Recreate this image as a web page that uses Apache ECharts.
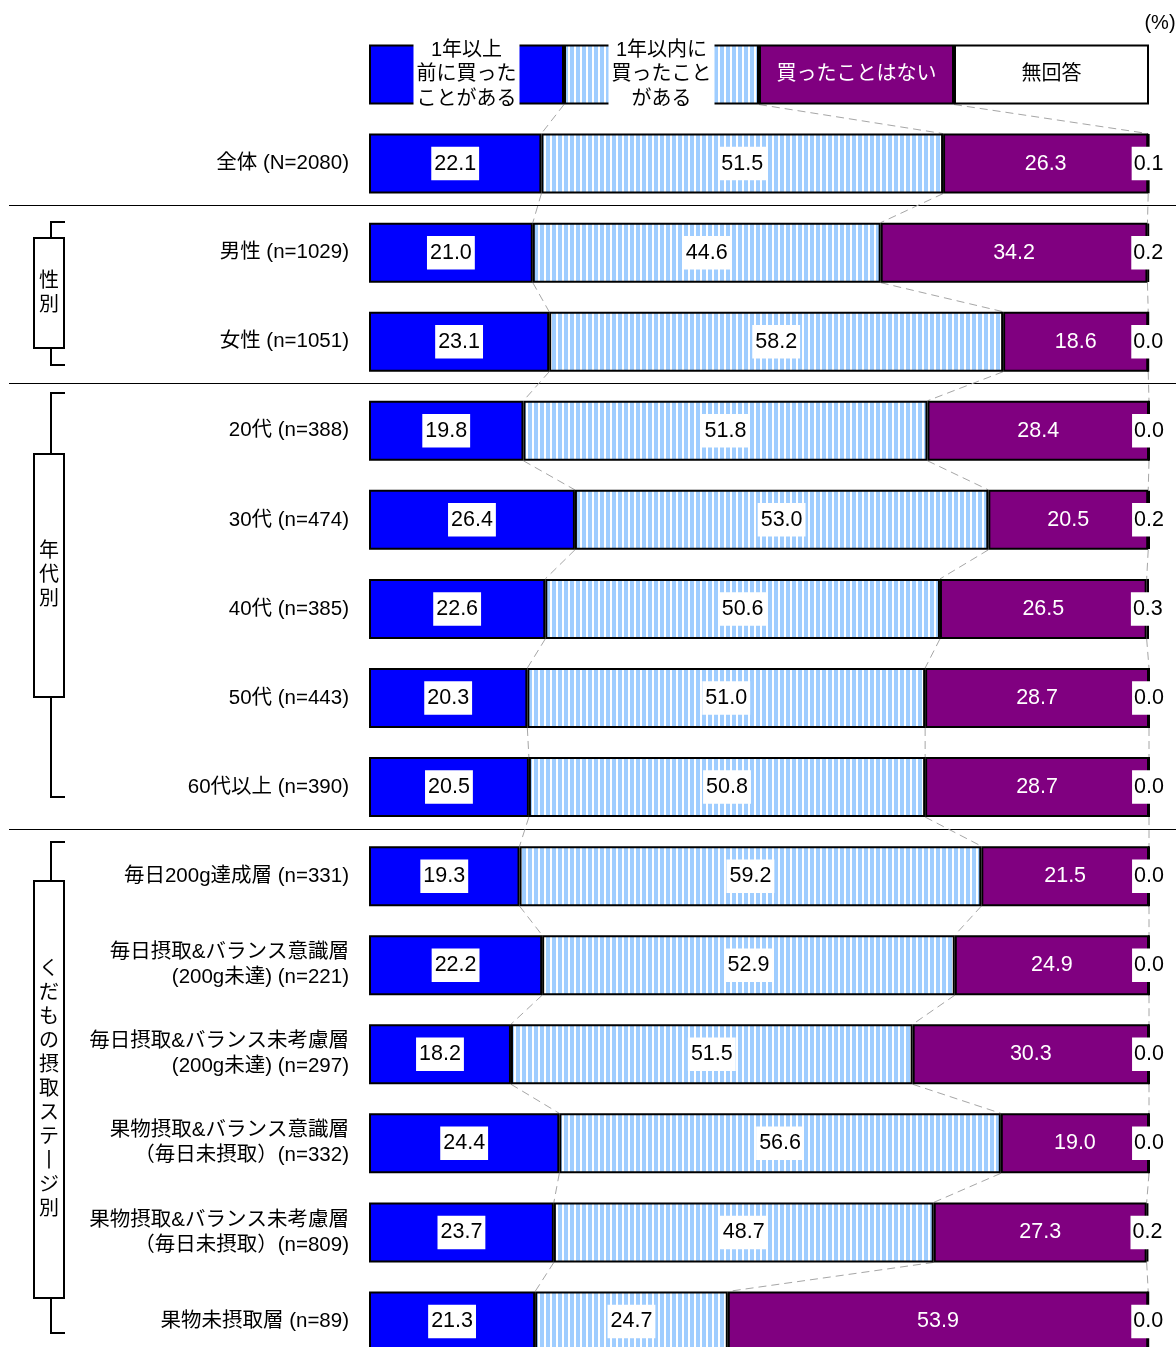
<!DOCTYPE html>
<html>
<head>
<meta charset="utf-8">
<script src="https://cdn.jsdelivr.net/npm/echarts@6/dist/echarts.min.js"></script>
<style>
  html, body { margin: 0; padding: 0; background: #fff; overflow: hidden; }
  /* the last bar runs past the bottom edge in the original, so the canvas is taller than the window */
  #chart { width: 1176px; height: 1366px; }
</style>
</head>
<body>
<div id="chart"></div>
<script>
// ---- data ----
const seriesNames = ['1年以上前に買ったことがある', '1年以内に買ったことがある', '買ったことはない', '無回答']
const keyLabels = ['1年以上\n前に買った\nことがある', '1年以内に\n買ったこと\nがある', '買ったことはない', '無回答']
const keyRowShare = [25, 25, 25, 25] // the top bar acts as the key

const categories = [
  '全体 (N=2080)',
  '男性 (n=1029)',
  '女性 (n=1051)',
  '20代 (n=388)',
  '30代 (n=474)',
  '40代 (n=385)',
  '50代 (n=443)',
  '60代以上 (n=390)',
  '毎日200g達成層 (n=331)',
  '毎日摂取&バランス意識層\n(200g未達) (n=221)',
  '毎日摂取&バランス未考慮層\n(200g未達) (n=297)',
  '果物摂取&バランス意識層\n（毎日未摂取）(n=332)',
  '果物摂取&バランス未考慮層\n（毎日未摂取）(n=809)',
  '果物未摂取層 (n=89)'
]
const boughtOverYear = [22.1, 21.0, 23.1, 19.8, 26.4, 22.6, 20.3, 20.5, 19.3, 22.2, 18.2, 24.4, 23.7, 21.3]
const boughtWithinYear = [51.5, 44.6, 58.2, 51.8, 53.0, 50.6, 51.0, 50.8, 59.2, 52.9, 51.5, 56.6, 48.7, 24.7]
const neverBought = [26.3, 34.2, 18.6, 28.4, 20.5, 26.5, 28.7, 28.7, 21.5, 24.9, 30.3, 19.0, 27.3, 53.9]
const noAnswer = [0.1, 0.2, 0.0, 0.0, 0.2, 0.3, 0.0, 0.0, 0.0, 0.0, 0.0, 0.0, 0.2, 0.0]

const groupNames = ['性\n別', '年\n代\n別', 'く\nだ\nも\nの\n摂\n取\nス\nテ\n丨\nジ\n別']

// ---- layout / style ----
const FONT = "'Liberation Sans', 'Noto Sans CJK JP', sans-serif"
const BAR_W = 60
const brackets = [
  { top: 222, bottom: 365, boxTop: 238, boxBottom: 348 },
  { top: 393, bottom: 797, boxTop: 454, boxBottom: 697 },
  { top: 842, bottom: 1333, boxTop: 881, boxBottom: 1298 }
]
const separatorsAfter = [1, 3, 8] // row index (key row = 0) after which a rule is drawn

function stripePattern() {
  const c = document.createElement('canvas')
  c.width = 6
  c.height = 6
  const ctx = c.getContext('2d')
  ctx.fillStyle = '#ffffff'
  ctx.fillRect(0, 0, 6, 6)
  ctx.fillStyle = '#9fcdff'
  ctx.fillRect(0, 0, 4, 6)
  return c
}

const valueSets = [boughtOverYear, boughtWithinYear, neverBought, noAnswer]
const fills = ['#0000ff', { image: stripePattern(), repeat: 'repeat' }, '#800080', '#ffffff']

const boxedLabel = { backgroundColor: '#fff', color: '#000', padding: [6, 3] }
const dataLabels = [boxedLabel, boxedLabel, { color: '#fff' }, { backgroundColor: '#fff', color: '#000', padding: [6, 2] }]
const keyLabelStyles = [
  { backgroundColor: '#fff', color: '#000', fontSize: 20, lineHeight: 24.5, padding: [1, 3] },
  { backgroundColor: '#fff', color: '#000', fontSize: 20, lineHeight: 24.5, padding: [1, 3] },
  { color: '#fff', fontSize: 20 },
  { color: '#000', fontSize: 20 }
]

const barSeries = valueSets.map((vals, k) => ({
  name: seriesNames[k],
  type: 'bar',
  stack: 'all',
  barWidth: BAR_W,
  z: 3,
  itemStyle: { color: fills[k], borderColor: '#000', borderWidth: 2 },
  label: {
    show: true,
    position: 'inside',
    fontSize: 21.5,
    fontFamily: FONT,
    formatter: p => p.value.toFixed(1),
    ...dataLabels[k]
  },
  data: [
    { value: keyRowShare[k], label: { formatter: keyLabels[k], ...keyLabelStyles[k] } },
    ...vals
  ]
}))

// cumulative boundaries per row (key row first)
const rowsCum = [keyRowShare, ...categories.map((_, i) => valueSets.map(v => v[i]))].map(r => [
  r[0], r[0] + r[1], r[0] + r[1] + r[2]
])
const connectorData = rowsCum.slice(0, -1).map((c, i) => [i, ...c, ...rowsCum[i + 1]])

const connectorSeries = {
  type: 'custom',
  z: 1,
  silent: true,
  encode: { x: [1, 2, 3, 4, 5, 6], y: 0 },
  data: connectorData,
  renderItem(params, api) {
    const i = api.value(0)
    const half = BAR_W / 2
    const children = []
    for (let k = 0; k < 3; k++) {
      const a = api.coord([api.value(1 + k), i])
      const b = api.coord([api.value(4 + k), i + 1])
      children.push({
        type: 'line',
        shape: { x1: a[0], y1: a[1] + half, x2: b[0], y2: b[1] - half },
        style: { stroke: '#a6a6a6', lineWidth: 1, lineDash: [8, 5] }
      })
    }
    return { type: 'group', children }
  }
}

const chart = echarts.init(document.getElementById('chart'))
chart.setOption({
  animation: false,
  backgroundColor: '#fff',
  textStyle: { fontFamily: FONT },
  grid: { left: 369, right: 27, top: 30, bottom: 0 },
  xAxis: { type: 'value', min: 0, max: 100, show: false },
  yAxis: {
    type: 'category',
    inverse: true,
    data: ['', ...categories],
    axisLine: { show: false },
    axisTick: { show: false },
    axisLabel: { fontSize: 20.5, color: '#000', margin: 20, lineHeight: 25, fontFamily: FONT }
  },
  series: [connectorSeries, ...barSeries]
})

// ---- decorations: rules, group brackets, unit ----
const rowY = i => chart.convertToPixel({ yAxisIndex: 0 }, i)
const graphics = []
separatorsAfter.forEach(r => {
  const y = Math.round((rowY(r) + rowY(r + 1)) / 2) - 3 + 0.5
  graphics.push({ type: 'line', shape: { x1: 9, y1: y, x2: 1176, y2: y }, style: { stroke: '#000', lineWidth: 1.2 } })
})
brackets.forEach((b, g) => {
  const lx = 51, rx = 65
  graphics.push({
    type: 'polyline',
    shape: { points: [[rx, b.top], [lx, b.top], [lx, b.bottom], [rx, b.bottom]] },
    style: { stroke: '#000', lineWidth: 2, fill: null }
  })
  graphics.push({
    type: 'rect',
    shape: { x: 34, y: b.boxTop, width: 30, height: b.boxBottom - b.boxTop },
    style: { fill: '#fff', stroke: '#000', lineWidth: 2 }
  })
  graphics.push({
    type: 'text',
    x: 49, y: (b.boxTop + b.boxBottom) / 2,
    style: {
      text: groupNames[g], font: `20px ${FONT}`, lineHeight: 24,
      fill: '#000', align: 'center', verticalAlign: 'middle'
    }
  })
})
graphics.push({
  type: 'text', x: 1160, y: 23,
  style: { text: '(%)', font: `20px ${FONT}`, fill: '#000', align: 'center', verticalAlign: 'middle' }
})
chart.setOption({ graphic: graphics })
</script>
</body>
</html>
